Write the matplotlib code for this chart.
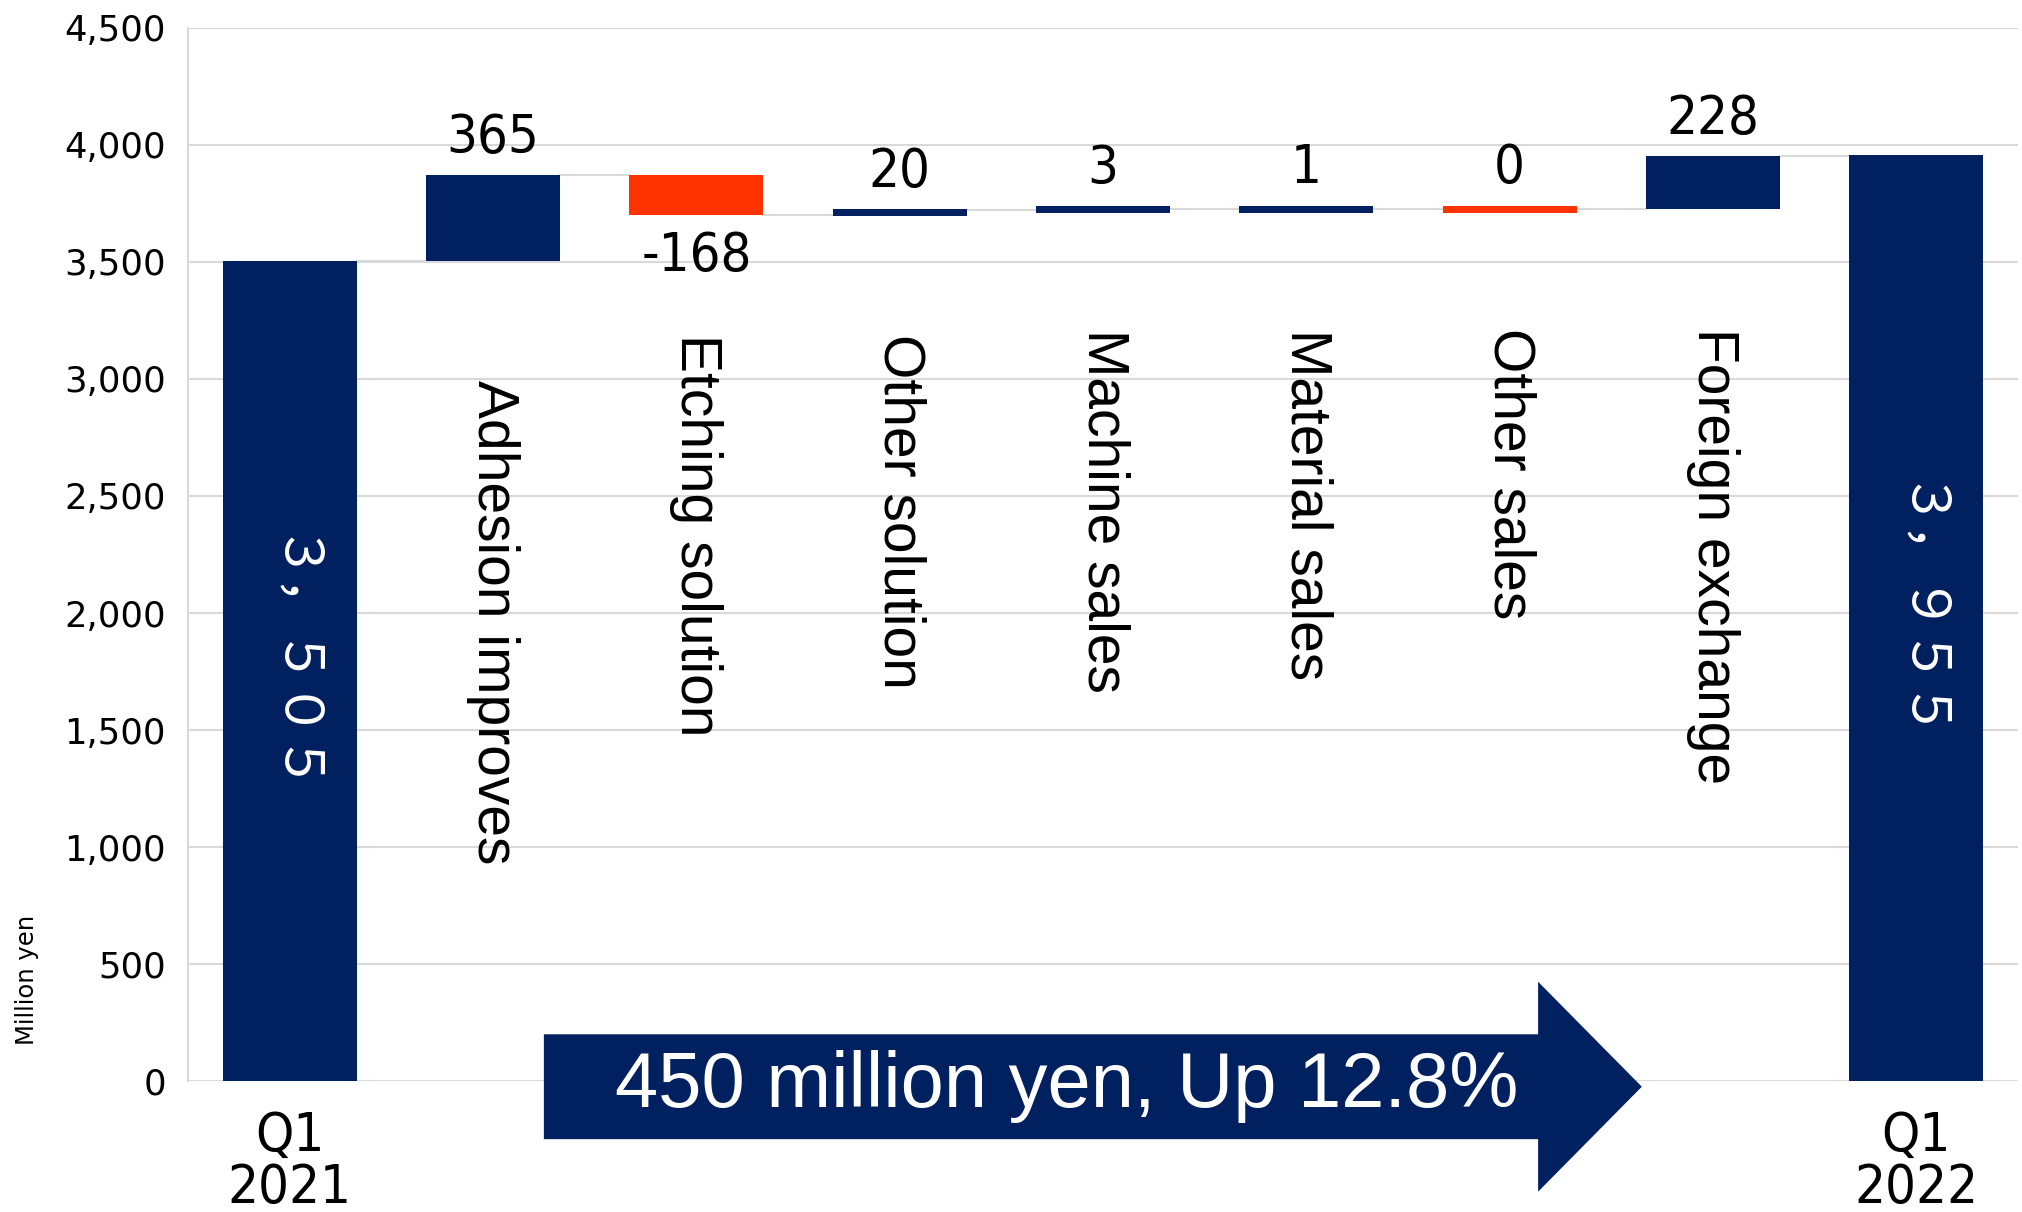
import matplotlib
matplotlib.use("Agg")
import matplotlib.pyplot as plt
from matplotlib.patches import FancyArrow

# values in million yen
start_label = "Q1\n2021"
end_label = "Q1\n2022"
start_value = 3505
end_value = 3955
steps = ["Adhesion improves", "Etching solution", "Other solution",
         "Machine sales", "Material sales", "Other sales", "Foreign exchange"]
deltas = [365, -168, 20, 3, 1, -0.4, 228]
yticks = [0, 500, 1000, 1500, 2000, 2500, 3000, 3500, 4000, 4500]

navy = "#002060"
red = "#ff3300"
grid = "#d9d9d9"
narrow = dict(family="DejaVu Sans", fontstretch="condensed")

fig = plt.figure(figsize=(20.22, 12.12), dpi=100)
ax = fig.add_axes([0.093, 0.108, 0.905, 0.869])

n = len(steps) + 2
w = 0.66
min_h = 30

ax.set_xlim(-0.5, n - 0.5)
ax.set_ylim(0, 4500)
ax.set_yticks(yticks)
ax.set_yticklabels([f"{v:,}" for v in yticks], fontsize=25.5, family="DejaVu Sans")
ax.yaxis.grid(True, color=grid, linewidth=1.5, zorder=0)
ax.set_axisbelow(True)
for s in ["top", "right", "bottom"]:
    ax.spines[s].set_visible(False)
ax.spines["left"].set_color(grid)
ax.spines["left"].set_linewidth(1.5)
ax.tick_params(axis="both", length=0)
ax.tick_params(axis="y", pad=16)

ax.set_xticks(range(n))
ax.set_xticklabels([start_label] + [""] * len(steps) + [end_label],
                   fontsize=39, linespacing=1.0, **narrow)
ax.tick_params(axis="x", pad=21)

# full-width digits for the totals, as in the original
fw = str.maketrans("0123456789,", "０１２３４５６７８９，")


def total_bar(i, v):
    ax.bar(i, v, width=w, color=navy, zorder=2)
    ax.text(i, v / 2 + 15, f"{v:,}".translate(fw), rotation=270, ha="center", va="center",
            color="white", fontsize=38, family=["Noto Sans CJK JP", "DejaVu Sans"], zorder=4)


total_bar(0, start_value)
total_bar(n - 1, end_value)

level = start_value
prev_right = 0 + w / 2
for k, (name, d) in enumerate(zip(steps, deltas)):
    i = k + 1
    before, after = level, level + d
    # connector from previous bar
    ax.plot([prev_right, i - w / 2], [before, before], color=grid, lw=1.5, zorder=1)
    h = max(abs(d), min_h)
    bottom = (before + after) / 2 - h / 2
    col = navy if d >= 0 else red
    ax.bar(i, h, bottom=bottom, width=w, color=col, zorder=2)
    r = int(round(d))
    if r >= 0:
        ax.annotate(f"{r}", (i, bottom + h), xytext=(0, 16), textcoords="offset points",
                    ha="center", va="baseline", fontsize=39, **narrow)
    else:
        ax.annotate(f"{r}", (i, bottom), xytext=(0, -11), textcoords="offset points",
                    ha="center", va="top", fontsize=39, **narrow)
    ax.text(i, min(before, after) - 510, name, rotation=270, ha="center", va="top",
            fontsize=41, family=["Liberation Sans", "DejaVu Sans"])
    level = after
    prev_right = i + w / 2

ax.plot([prev_right, n - 1 - w / 2], [level, level], color=grid, lw=1.5, zorder=1)

# summary arrow under the bars
diff = end_value - start_value
pct = diff / start_value * 100
arrow = FancyArrow(1.25, -24, 5.4, 0, width=448, head_width=897, head_length=0.51,
                   length_includes_head=True, color=navy, lw=0, clip_on=False, zorder=5)
ax.add_patch(arrow)
ax.text(3.82, -24, f"{diff} million yen, Up {pct:.1f}%", ha="center", va="center",
        color="white", fontsize=56, family=["Liberation Sans", "DejaVu Sans"],
        clip_on=False, zorder=6)

fig.text(27 / 2022, 1 - 980 / 1212, "Million yen", rotation=90, ha="center", va="center",
         fontsize=17.5, family="DejaVu Sans")

fig.savefig("out.png", dpi=100)
